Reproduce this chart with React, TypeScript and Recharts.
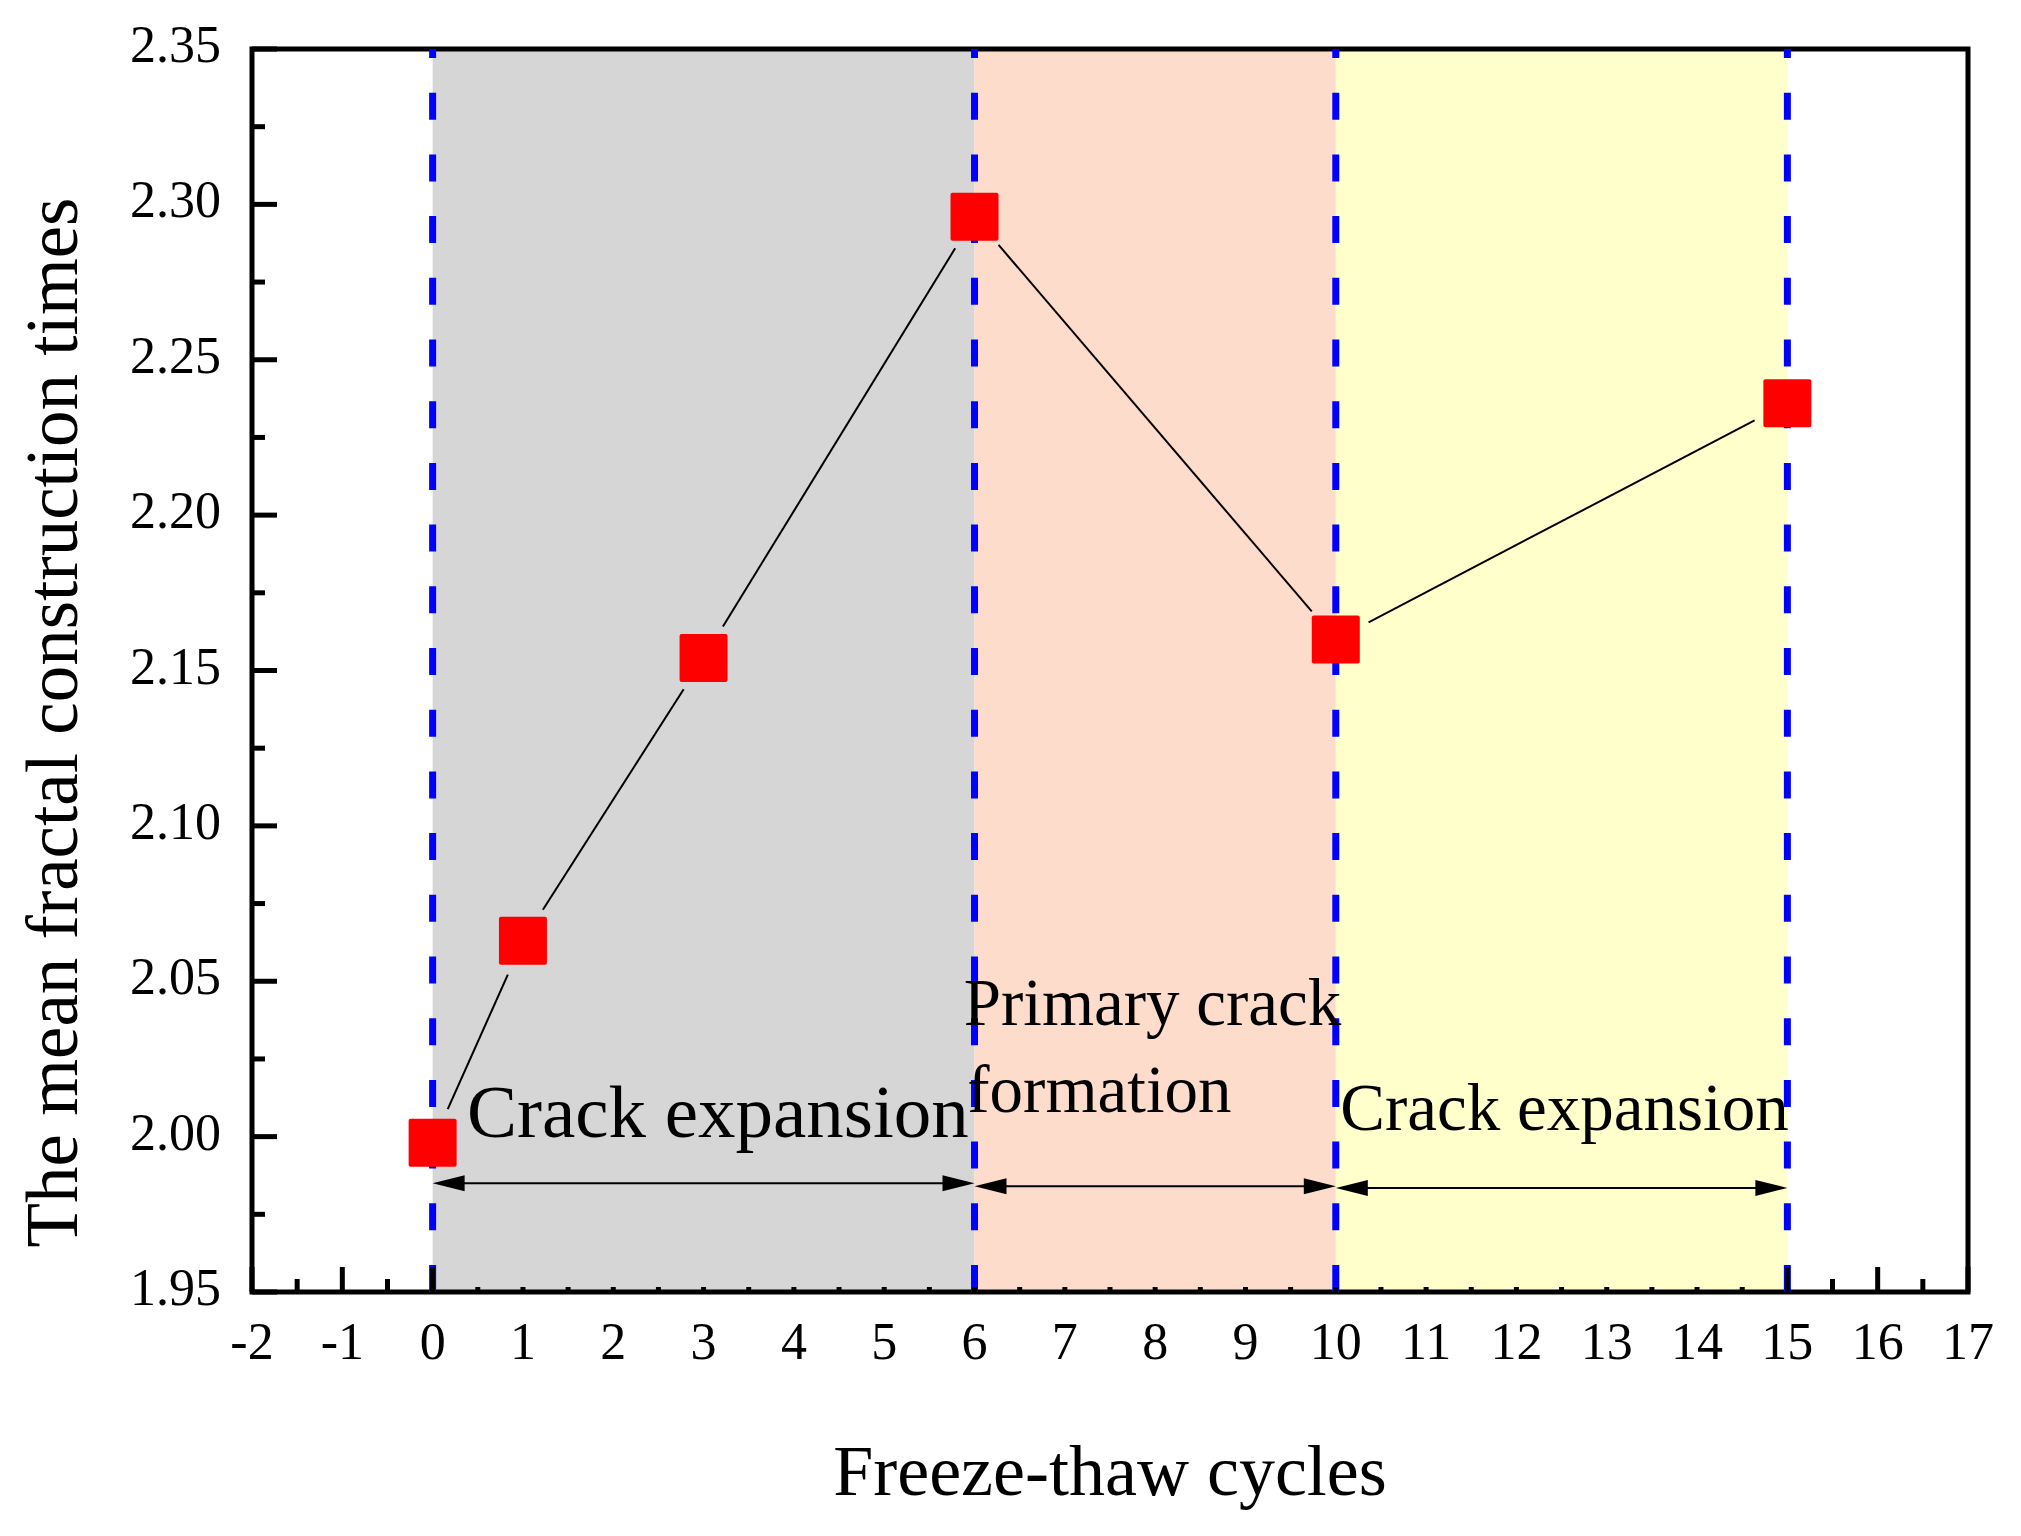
import React from "react";
import {
  ComposedChart,
  XAxis,
  YAxis,
  Scatter,
  ReferenceArea,
  ReferenceLine,
  ReferenceDot,
  Label,
} from "recharts";

// page has an 8px body margin by default, drop it so the chart fills the window
document.body.style.margin = "0";

const cycles = [0, 1, 3, 6, 10, 15];
const fractalTimes = [1.998, 2.063, 2.154, 2.296, 2.16, 2.236];

// axis ticks
const xMajorTicks = [-2, -1, 0, 1, 2, 3, 4, 5, 6, 7, 8, 9, 10, 11, 12, 13, 14, 15, 16, 17];
const yMajorTicks = [1.95, 2.0, 2.05, 2.1, 2.15, 2.2, 2.25, 2.3, 2.35];

// stages: boundaries, fill colours and the double arrow level under each
const stageBounds = [0, 6, 10, 15];
const stageColors = ["#d6d6d6", "#fddccb", "#ffffcc"];
const arrowLevels = [1.985, 1.984, 1.9835];

// annotation texts and their data anchors (left edge, baseline)
const noteTexts = ["Crack expansion", "Primary crack", "formation", "Crack expansion"];
const noteX = [0.38, 5.88, 5.92, 10.05];
const noteY = [2.0, 2.036, 2.008, 2.002];
const noteBig = [true, false, false, false];

const data = cycles.map((c, i) => ({ cycle: c, value: fractalTimes[i] }));

const xTicks = xMajorTicks.flatMap((t, i) =>
  i < xMajorTicks.length - 1 ? [t, t + 0.5] : [t]
);
const yTicks = yMajorTicks.flatMap((t, i) =>
  i < yMajorTicks.length - 1 ? [t, +(t + 0.025).toFixed(3)] : [t]
);

const FONT = "'Liberation Serif', 'Times New Roman', serif";

const isMajor = (v: number, list: number[]) =>
  list.some((t) => Math.abs(t - v) < 1e-9);

// inside the shaded stages the fill hides the ticks, only a small stub shows
const shadeStart = stageBounds[0];
const shadeEnd = stageBounds[stageBounds.length - 1];

const XTick = (props: any) => {
  const { x, y, payload } = props;
  const v = payload.value;
  const major = isMajor(v, xMajorTicks);
  const covered = v > shadeStart && v < shadeEnd;
  const len = covered ? 5 : major ? 25 : 13;
  return (
    <g>
      <line x1={x} y1={y} x2={x} y2={y - len} stroke="#000" strokeWidth={5} />
      {major && (
        <text x={x} y={y + 67} textAnchor="middle" fontSize={52} fontFamily={FONT} fill="#000">
          {String(v)}
        </text>
      )}
    </g>
  );
};

const YTick = (props: any) => {
  const { x, y, payload } = props;
  const v = payload.value;
  const major = isMajor(v, yMajorTicks);
  return (
    <g>
      <line x1={x} y1={y} x2={x + (major ? 25 : 13)} y2={y} stroke="#000" strokeWidth={5} />
      {major && (
        <text x={x - 31} y={y + 13} textAnchor="end" fontSize={52} fontFamily={FONT} fill="#000">
          {v.toFixed(2)}
        </text>
      )}
    </g>
  );
};

const XTitle = (props: any) => {
  const vb = props.viewBox;
  return (
    <text
      x={vb.x + vb.width / 2}
      y={vb.y + 203}
      textAnchor="middle"
      fontSize={72}
      fontFamily={FONT}
      fill="#000"
    >
      Freeze-thaw cycles
    </text>
  );
};

const YTitle = (props: any) => {
  const vb = props.viewBox;
  const px = vb.x + 77;
  const py = vb.y + vb.height / 2 + 52;
  return (
    <text
      x={px}
      y={py}
      transform={`rotate(-90, ${px}, ${py})`}
      textAnchor="middle"
      fontSize={73}
      fontFamily={FONT}
      fill="#000"
    >
      The mean fractal construction times
    </text>
  );
};

// the connecting line stops short of each marker, like the original plot
const GapLine = (props: any) => {
  const pts = props.points || [];
  const gap = 37;
  const segs = [];
  for (let i = 0; i < pts.length - 1; i++) {
    const a = pts[i];
    const b = pts[i + 1];
    const dx = b.x - a.x;
    const dy = b.y - a.y;
    const len = Math.sqrt(dx * dx + dy * dy);
    const ux = dx / len;
    const uy = dy / len;
    segs.push(
      <line
        key={i}
        x1={a.x + ux * gap}
        y1={a.y + uy * gap}
        x2={b.x - ux * gap}
        y2={b.y - uy * gap}
        stroke="#000"
        strokeWidth={2}
      />
    );
  }
  return <g>{segs}</g>;
};

const SquareMarker = (props: any) => {
  const { cx, cy } = props;
  return <rect x={cx - 24} y={cy - 24} width={48} height={48} rx={2} fill="#ff0000" />;
};

const DoubleArrow = (props: any) => {
  const { x1, y1, x2, y2 } = props;
  const L = 32;
  const H = 8;
  return (
    <g>
      <line x1={x1 + 10} y1={y1} x2={x2 - 10} y2={y2} stroke="#000" strokeWidth={2} />
      <polygon points={`${x1},${y1} ${x1 + L},${y1 - H} ${x1 + L},${y1 + H}`} fill="#000" />
      <polygon points={`${x2},${y2} ${x2 - L},${y2 - H} ${x2 - L},${y2 + H}`} fill="#000" />
    </g>
  );
};

export default function App() {
  return (
    <ComposedChart
      width={2021}
      height={1536}
      margin={{ top: 49, right: 53, bottom: 0, left: 0 }}
      style={{ background: "#fff" }}
    >
      <XAxis
        dataKey="cycle"
        type="number"
        domain={[-2, 17]}
        ticks={xTicks}
        interval={0}
        tick={<XTick />}
        tickSize={0}
        tickMargin={0}
        tickLine={false}
        axisLine={false}
        height={244}
        allowDataOverflow
      >
        <Label content={<XTitle />} />
      </XAxis>
      <YAxis
        dataKey="value"
        type="number"
        domain={[1.95, 2.35]}
        ticks={yTicks}
        interval={0}
        tick={<YTick />}
        tickSize={0}
        tickMargin={0}
        tickLine={false}
        axisLine={false}
        width={252}
        allowDataOverflow
      >
        <Label content={<YTitle />} />
      </YAxis>

      {stageColors.map((c, i) => (
        <ReferenceArea
          key={`stage-${i}`}
          x1={stageBounds[i]}
          x2={stageBounds[i + 1]}
          y1={1.95}
          y2={2.35}
          fill={c}
          fillOpacity={1}
          stroke="none"
          ifOverflow="visible"
        />
      ))}

      <ReferenceArea
        x1={-2}
        x2={17}
        y1={1.95}
        y2={2.35}
        fill="none"
        fillOpacity={0}
        stroke="#000"
        strokeWidth={5}
        ifOverflow="visible"
      />

      <Scatter
        data={data}
        dataKey="value"
        line={(p: any) => <GapLine {...p} />}
        lineType="joint"
        shape={(p: any) => <SquareMarker {...p} />}
        isAnimationActive={false}
      />

      {arrowLevels.map((lvl, i) => (
        <ReferenceLine
          key={`arrow-${i}`}
          segment={[
            { x: stageBounds[i], y: lvl },
            { x: stageBounds[i + 1], y: lvl },
          ]}
          shape={(p: any) => <DoubleArrow {...p} />}
          ifOverflow="visible"
        />
      ))}

      {noteTexts.map((t, i) => (
        <ReferenceDot
          key={`note-${i}`}
          x={noteX[i]}
          y={noteY[i]}
          r={0}
          ifOverflow="visible"
          shape={(p: any) => (
            <text
              x={p.cx}
              y={p.cy}
              fontSize={noteBig[i] ? 75 : 67}
              fontFamily={FONT}
              fill="#000"
            >
              {t}
            </text>
          )}
        />
      ))}

      {stageBounds.map((b) => (
        <ReferenceLine
          key={`bound-${b}`}
          x={b}
          stroke="#0000ff"
          strokeWidth={7}
          strokeDasharray="27 34.7"
          ifOverflow="visible"
        />
      ))}
    </ComposedChart>
  );
}
